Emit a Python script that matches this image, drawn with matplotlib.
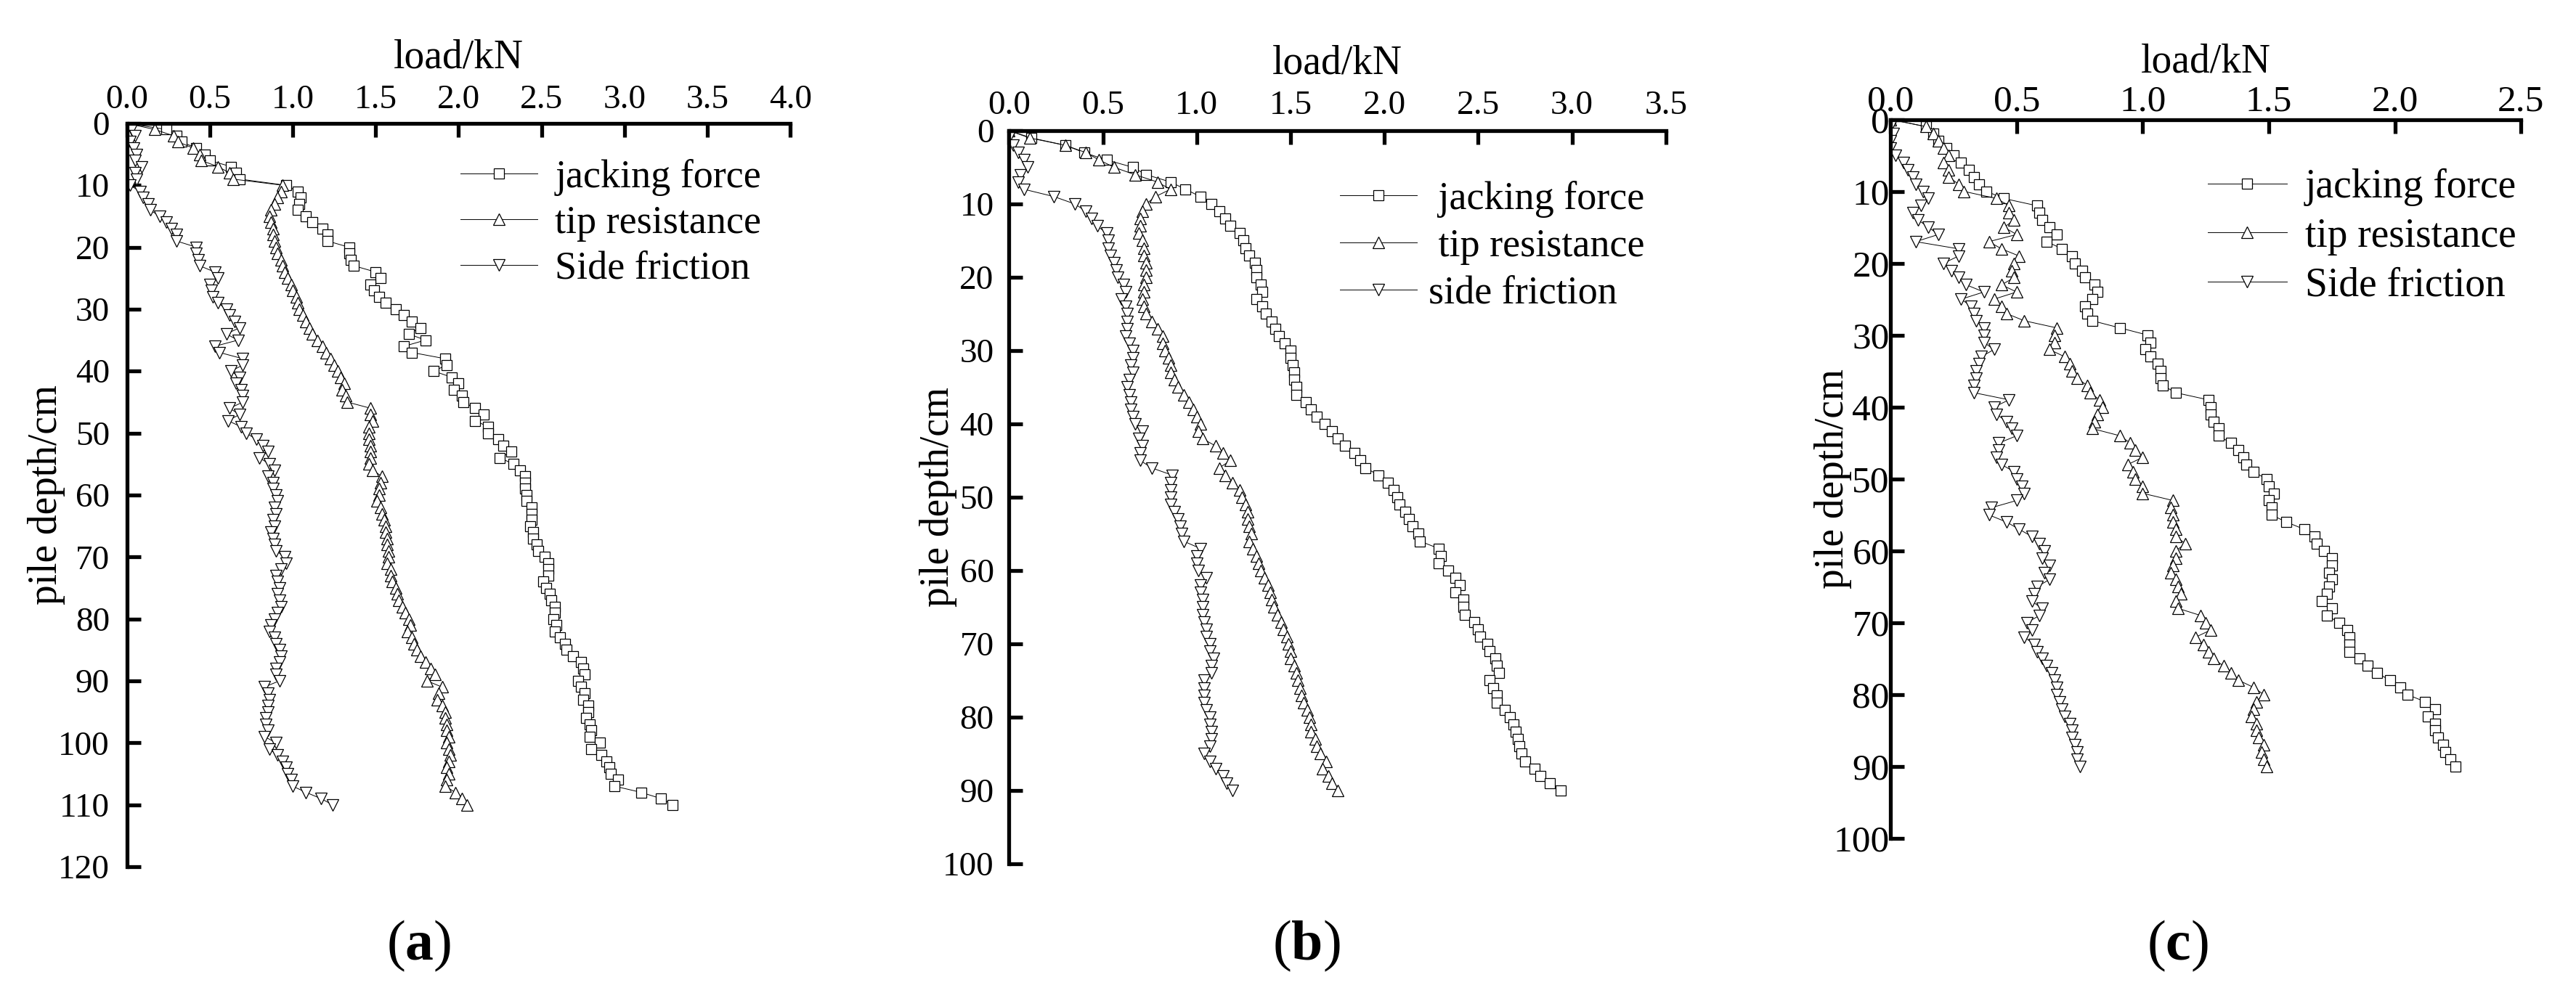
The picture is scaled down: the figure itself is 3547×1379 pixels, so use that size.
import numpy as np
import matplotlib
matplotlib.use('Agg')
import matplotlib.pyplot as plt

plt.rcParams['font.family'] = ['Liberation Serif', 'DejaVu Serif']
plt.rcParams['mathtext.fontset'] = 'custom'
plt.rcParams['mathtext.rm'] = 'Liberation Serif'
plt.rcParams['mathtext.bf'] = 'Liberation Serif:bold'

# ---------------- data: load (kN) at each depth (cm) ----------------
depth_a = list(range(0, 111))
jack_a = [0.0, 0.24, 0.30, 0.33, 0.42, 0.47, 0.50, 0.63, 0.66, 0.68,
          0.96, 1.03, 1.05, 1.04, 1.03, 1.08, 1.12, 1.18, 1.21, 1.21,
          1.34, 1.34, 1.35, 1.37, 1.50, 1.53, 1.47, 1.49, 1.52, 1.56,
          1.62, 1.67, 1.72, 1.77, 1.70, 1.80, 1.67, 1.72, 1.92, 1.93,
          1.85, 1.96, 2.00, 1.97, 2.02, 2.03, 2.10, 2.15, 2.10, 2.18,
          2.18, 2.24, 2.27, 2.32, 2.25, 2.33, 2.37, 2.40, 2.40, 2.40,
          2.41, 2.41, 2.44, 2.44, 2.44, 2.43, 2.45, 2.45, 2.47, 2.48,
          2.52, 2.54, 2.54, 2.54, 2.51, 2.53, 2.55, 2.56, 2.58, 2.58,
          2.57, 2.59, 2.58, 2.61, 2.64, 2.65, 2.69, 2.74, 2.75, 2.76,
          2.72, 2.74, 2.76, 2.75, 2.78, 2.78, 2.77, 2.79, 2.80, 2.79,
          2.85, 2.80, 2.86, 2.89, 2.91, 2.92, 2.96, 2.94, 3.10, 3.22,
          3.29]
tip_a = [0.0, 0.17, 0.28, 0.31, 0.40, 0.44, 0.45, 0.55, 0.62, 0.64,
         0.94, 0.93, 0.91, 0.89, 0.87, 0.86, 0.87, 0.88, 0.88, 0.89,
         0.90, 0.91, 0.93, 0.94, 0.95, 0.97, 0.99, 1.00, 1.02, 1.03,
         1.04, 1.06, 1.08, 1.10, 1.12, 1.15, 1.18, 1.20, 1.23, 1.25,
         1.27, 1.29, 1.31, 1.30, 1.32, 1.33, 1.47, 1.47, 1.48, 1.46,
         1.46, 1.46, 1.47, 1.47, 1.47, 1.46, 1.48, 1.54, 1.53, 1.52,
         1.52, 1.51, 1.53, 1.54, 1.55, 1.56, 1.56, 1.57, 1.57, 1.58,
         1.58, 1.57, 1.59, 1.59, 1.60, 1.62, 1.63, 1.64, 1.66, 1.68,
         1.70, 1.71, 1.69, 1.72, 1.73, 1.75, 1.77, 1.80, 1.83, 1.86,
         1.81, 1.90, 1.88, 1.87, 1.90, 1.92, 1.92, 1.93, 1.93, 1.94,
         1.93, 1.94, 1.95, 1.94, 1.93, 1.94, 1.93, 1.92, 1.98, 2.02,
         2.05]
side_a = [0.0, 0.03, 0.05, 0.02, 0.04, 0.06, 0.05, 0.09, 0.05, 0.06,
          0.02, 0.08, 0.10, 0.13, 0.14, 0.20, 0.24, 0.27, 0.30, 0.30,
          0.42, 0.42, 0.43, 0.44, 0.53, 0.55, 0.50, 0.51, 0.52, 0.55,
          0.60, 0.62, 0.65, 0.68, 0.60, 0.67, 0.53, 0.56, 0.70, 0.70,
          0.63, 0.68, 0.66, 0.69, 0.70, 0.70, 0.62, 0.68, 0.61, 0.69,
          0.72, 0.78, 0.82, 0.85, 0.80, 0.86, 0.89, 0.85, 0.88, 0.88,
          0.90, 0.91, 0.89, 0.90, 0.88, 0.89, 0.87, 0.88, 0.89, 0.90,
          0.95, 0.96, 0.93, 0.90, 0.91, 0.92, 0.91, 0.92, 0.93, 0.91,
          0.89, 0.87, 0.86, 0.89, 0.90, 0.92, 0.93, 0.92, 0.90, 0.90,
          0.92, 0.83, 0.85, 0.86, 0.85, 0.85, 0.84, 0.84, 0.85, 0.83,
          0.90, 0.86, 0.91, 0.94, 0.96, 0.97, 0.99, 1.00, 1.08, 1.17,
          1.24]

depth_b = list(range(0, 91))
jack_b = [0.0, 0.12, 0.30, 0.40, 0.52, 0.66, 0.73, 0.86, 0.94, 1.02,
          1.08, 1.12, 1.15, 1.18, 1.23, 1.25, 1.26, 1.28, 1.31, 1.32,
          1.32, 1.34, 1.35, 1.32, 1.35, 1.37, 1.40, 1.42, 1.44, 1.47,
          1.50, 1.50, 1.51, 1.52, 1.52, 1.53, 1.53, 1.58, 1.61, 1.64,
          1.68, 1.72, 1.75, 1.79, 1.84, 1.87, 1.90, 1.97, 2.02, 2.05,
          2.07, 2.08, 2.11, 2.13, 2.15, 2.18, 2.19, 2.29, 2.30, 2.29,
          2.34, 2.38, 2.40, 2.38, 2.42, 2.42, 2.43, 2.48, 2.50, 2.51,
          2.55, 2.56, 2.59, 2.60, 2.61, 2.56, 2.58, 2.60, 2.60, 2.64,
          2.67, 2.69, 2.70, 2.71, 2.72, 2.73, 2.75, 2.80, 2.83, 2.88,
          2.94]
tip_b = [0.0, 0.11, 0.30, 0.41, 0.48, 0.56, 0.67, 0.79, 0.86, 0.78,
         0.73, 0.71, 0.70, 0.70, 0.69, 0.71, 0.72, 0.72, 0.73, 0.73,
         0.73, 0.72, 0.72, 0.71, 0.72, 0.73, 0.76, 0.79, 0.82, 0.82,
         0.83, 0.85, 0.86, 0.86, 0.88, 0.90, 0.93, 0.96, 0.98, 1.00,
         1.02, 1.01, 1.03, 1.10, 1.14, 1.18, 1.12, 1.15, 1.19, 1.23,
         1.24, 1.26, 1.27, 1.27, 1.28, 1.29, 1.28, 1.30, 1.32, 1.33,
         1.34, 1.36, 1.38, 1.39, 1.40, 1.41, 1.43, 1.45, 1.46, 1.48,
         1.49, 1.50, 1.50, 1.52, 1.53, 1.54, 1.55, 1.56, 1.57, 1.59,
         1.60, 1.61, 1.61, 1.63, 1.64, 1.66, 1.69, 1.67, 1.70, 1.72,
         1.75]
side_b = [0.0, 0.0, 0.02, 0.05, 0.08, 0.10, 0.06, 0.05, 0.08, 0.24,
          0.35, 0.41, 0.44, 0.47, 0.52, 0.53, 0.53, 0.54, 0.56, 0.57,
          0.58, 0.61, 0.62, 0.60, 0.62, 0.63, 0.63, 0.63, 0.62, 0.64,
          0.66, 0.66, 0.65, 0.66, 0.64, 0.63, 0.64, 0.65, 0.65, 0.66,
          0.67, 0.71, 0.69, 0.71, 0.70, 0.70, 0.76, 0.87, 0.86, 0.86,
          0.86, 0.86, 0.88, 0.90, 0.91, 0.92, 0.93, 1.02, 1.00, 1.00,
          1.01, 1.05, 1.02, 1.02, 1.03, 1.03, 1.03, 1.04, 1.05, 1.05,
          1.07, 1.07, 1.09, 1.08, 1.08, 1.04, 1.04, 1.04, 1.04, 1.05,
          1.07, 1.07, 1.08, 1.08, 1.07, 1.04, 1.07, 1.10, 1.14, 1.16,
          1.19]

depth_c = list(range(0, 91))
jack_c = [0.0, 0.14, 0.17, 0.19, 0.22, 0.25, 0.28, 0.31, 0.33, 0.35,
          0.38, 0.45, 0.58, 0.59, 0.60, 0.63, 0.66, 0.62, 0.68, 0.72,
          0.73, 0.76, 0.77, 0.81, 0.82, 0.80, 0.77, 0.78, 0.80, 0.91,
          1.02, 1.03, 1.01, 1.03, 1.06, 1.07, 1.07, 1.08, 1.13, 1.26,
          1.27, 1.27, 1.28, 1.30, 1.30, 1.35, 1.38, 1.40, 1.41, 1.44,
          1.49, 1.50, 1.52, 1.50, 1.51, 1.51, 1.57, 1.64, 1.68, 1.69,
          1.72, 1.75, 1.75, 1.74, 1.75, 1.74, 1.73, 1.71, 1.75, 1.73,
          1.78, 1.81, 1.82, 1.82, 1.82, 1.86, 1.89, 1.93, 1.98, 2.02,
          2.05, 2.12, 2.16, 2.13, 2.16, 2.16, 2.17, 2.19, 2.20, 2.22,
          2.24]
tip_c = [0.0, 0.14, 0.17, 0.19, 0.21, 0.23, 0.21, 0.23, 0.23, 0.27,
         0.29, 0.42, 0.47, 0.47, 0.49, 0.45, 0.50, 0.39, 0.44, 0.51,
         0.49, 0.48, 0.49, 0.44, 0.50, 0.41, 0.44, 0.46, 0.53, 0.66,
         0.65, 0.65, 0.63, 0.69, 0.71, 0.72, 0.74, 0.78, 0.79, 0.83,
         0.84, 0.82, 0.81, 0.80, 0.91, 0.95, 0.97, 1.00, 0.94, 0.96,
         0.97, 1.00, 1.00, 1.12, 1.11, 1.12, 1.12, 1.13, 1.13, 1.17,
         1.13, 1.13, 1.12, 1.11, 1.13, 1.14, 1.15, 1.13, 1.14, 1.23,
         1.25, 1.27, 1.21, 1.24, 1.26, 1.28, 1.32, 1.35, 1.38, 1.44,
         1.48, 1.45, 1.44, 1.43, 1.45, 1.45, 1.46, 1.48, 1.47, 1.48,
         1.49]
side_c = [0.0, 0.0, 0.01, 0.0, 0.0, 0.02, 0.05, 0.07, 0.09, 0.10,
          0.13, 0.15, 0.12, 0.09, 0.11, 0.15, 0.19, 0.10, 0.27, 0.27,
          0.21, 0.24, 0.27, 0.30, 0.37, 0.28, 0.32, 0.33, 0.34, 0.37,
          0.37, 0.37, 0.41, 0.36, 0.35, 0.34, 0.34, 0.33, 0.33, 0.47,
          0.41, 0.42, 0.46, 0.48, 0.50, 0.43, 0.43, 0.42, 0.44, 0.49,
          0.50, 0.52, 0.53, 0.50, 0.40, 0.39, 0.46, 0.51, 0.56, 0.59,
          0.61, 0.60, 0.63, 0.61, 0.63, 0.58, 0.57, 0.56, 0.60, 0.59,
          0.54, 0.56, 0.53, 0.57, 0.58, 0.60, 0.62, 0.64, 0.65, 0.66,
          0.66, 0.67, 0.68, 0.69, 0.71, 0.72, 0.72, 0.73, 0.74, 0.74,
          0.75]

labels_a = ['jacking force', 'tip resistance', 'Side friction']
labels_b = [' jacking force', ' tip resistance', 'side friction']
labels_c = ['jacking force', 'tip resistance', 'Side friction']

# ---------------- figure ----------------
fig = plt.figure(figsize=(35.48, 13.79), dpi=100)

panels = [
    dict(rect=[0.0492, 0.1342, 0.2575, 0.7426], depth=depth_a,
         series=[jack_a, tip_a, side_a], labels=labels_a, xmax=4.0, ymax=120,
         tfs=34, xpad=8, ypad=17, xly=1.075, ylx=-0.093,
         leg=(0.503, 0.952), legfs=39, htp=0.44, lsp=0.23, tag='a', tagx=0.1626),
    dict(rect=[0.3916, 0.1371, 0.2549, 0.7324], depth=depth_b,
         series=[jack_b, tip_b, side_b], labels=labels_b, xmax=3.5, ymax=100,
         tfs=34, xpad=9, ypad=15, xly=1.078, ylx=-0.079,
         leg=(0.504, 0.932), legfs=39, htp=0.28, lsp=0.27, tag='b', tagx=0.507),
    dict(rect=[0.7337, 0.1624, 0.2447, 0.7183], depth=depth_c,
         series=[jack_c, tip_c, side_c], labels=labels_c, xmax=2.5, ymax=100,
         tfs=37, xpad=1, ypad=1, xly=1.066, ylx=-0.061,
         leg=(0.503, 0.932), legfs=40, htp=0.45, lsp=0.28, tag='c', tagx=0.845),
]

markers = ['s', '^', 'v']
msizes = [10, 11, 11]

for p in panels:
    ax = fig.add_axes(p['rect'])
    for vals, lab, mk, ms in zip(p['series'], p['labels'], markers, msizes):
        ax.plot(vals, p['depth'], color='black', linewidth=0.7, marker=mk,
                markersize=ms, markerfacecolor='white', markeredgecolor='black',
                markeredgewidth=0.9, label=lab)

    ax.set_xlim(0, p['xmax'])
    ax.set_ylim(p['ymax'], 0)
    xt = np.arange(0, p['xmax'] + 0.01, 0.5)
    ax.set_xticks(xt)
    ax.set_xticklabels(['%.1f' % v for v in xt])
    ax.set_yticks(np.arange(0, p['ymax'] + 1, 10))

    ax.xaxis.tick_top()
    ax.xaxis.set_label_position('top')
    for s in ['right', 'bottom']:
        ax.spines[s].set_visible(False)
    for s in ['top', 'left']:
        ax.spines[s].set_linewidth(3.8)
    ax.tick_params(axis='both', direction='in', length=14, width=3.8,
                   labelsize=p['tfs'])
    ax.tick_params(axis='x', pad=p['xpad'])
    ax.tick_params(axis='y', pad=p['ypad'])

    ax.set_xlabel('load/kN', fontsize=40)
    ax.set_ylabel('pile depth/cm', fontsize=40)
    ax.xaxis.set_label_coords(0.5, p['xly'])
    ax.yaxis.set_label_coords(p['ylx'], 0.5)

    ax.legend(loc='upper left', bbox_to_anchor=p['leg'], frameon=False,
              fontsize=p['legfs'], numpoints=1, handlelength=1.96,
              handletextpad=p['htp'], labelspacing=p['lsp'], borderpad=0,
              borderaxespad=0)

    fig.text(p['tagx'], 0.055, r'($\mathbf{%s}$)' % p['tag'], fontsize=56,
             ha='center', va='center')

fig.savefig('out.png', dpi=100)
